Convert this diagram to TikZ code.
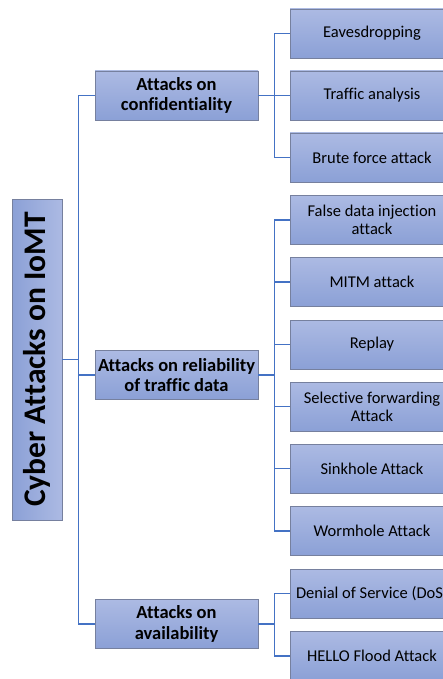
\documentclass[tikz,border=0pt]{standalone}
\usepackage{fontspec}
\setmainfont{Carlito}[Ligatures=CommonOff]
\usepackage{tikz}
\usetikzlibrary{calc,positioning}
\definecolor{boxtop}{RGB}{172,186,227}
\definecolor{boxbot}{RGB}{139,160,214}
\definecolor{boxline}{RGB}{118,128,158}
\definecolor{linkblue}{RGB}{68,114,196}

\begin{document}
\begin{tikzpicture}[x=1pt, y=-1pt,
  catbox/.style = {draw=boxline, line width=0.8pt, top color=boxtop, bottom color=boxbot,
                   minimum width=163pt, minimum height=49pt, inner sep=1pt, align=center,
                   font=\fontsize{18.5}{20.5}\selectfont\bfseries},
  leafbox/.style = {draw=boxline, line width=0.8pt, top color=boxtop, bottom color=boxbot,
                    minimum width=164pt, minimum height=49pt, inner sep=1pt, align=center,
                    font=\fontsize{16.5}{18}\selectfont},
  link/.style = {draw=linkblue, line width=1.2pt}]

\useasboundingbox (0,0) rectangle (442,679);

% root
\node[draw=boxline, line width=0.8pt, left color=boxbot, right color=boxtop, rotate=90,
      minimum width=321pt, minimum height=50pt, inner sep=1pt,
      font=\fontsize{31.5}{34}\selectfont\bfseries] (root) at (37,359.5) {Cyber Attacks on IoMT};

% categories
\node[catbox] (conf)  at (176.5,95.5) {Attacks on\\confidentiality};
\node[catbox] (rel)   at (176.5,375)  {Attacks on reliability\\of traffic data};
\node[catbox] (avail) at (176.5,624)  {Attacks on\\availability};

% attacks
\node[leafbox] (eav)   at (372,33.5)  {Eavesdropping};
\node[leafbox] (traf)  at (372,95.5)  {Traffic analysis};
\node[leafbox] (brute) at (372,157.5) {Brute force attack};
\node[leafbox] (fdi)   at (372,220)   {False data injection\\attack};
\node[leafbox] (mitm)  at (372,282)   {MITM attack};
\node[leafbox] (replay) at (372,344.5) {Replay};
\node[leafbox] (selfw) at (372,406.5) {Selective forwarding\\Attack};
\node[leafbox] (sink)  at (372,468.5) {Sinkhole Attack};
\node[leafbox] (worm)  at (372,531)   {Wormhole Attack};
\node[leafbox] (dos)   at (372,593.5) {Denial of Service (DoS)};
\node[leafbox] (hello) at (372,656)   {HELLO Flood Attack};

% links
\foreach \c in {conf,rel,avail}
  \draw[link] (root.south) -- ++(16,0) |- (\c.west);
\foreach \a in {eav,traf,brute}
  \draw[link] (conf.east) -- ++(16,0) |- (\a.west);
\foreach \a in {fdi,mitm,replay,selfw,sink,worm}
  \draw[link] (rel.east) -- ++(16,0) |- (\a.west);
\foreach \a in {dos,hello}
  \draw[link] (avail.east) -- ++(16,0) |- (\a.west);

\end{tikzpicture}
\end{document}
